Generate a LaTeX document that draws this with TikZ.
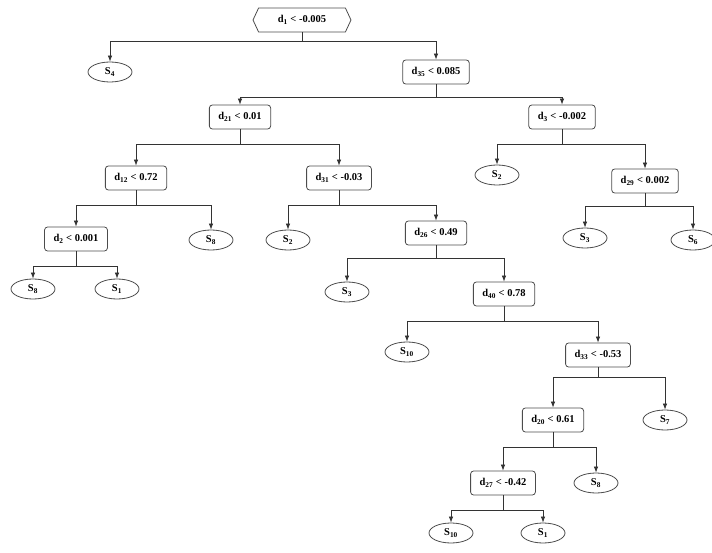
\documentclass[tikz,border=0pt]{standalone}
\usepackage{fontspec}
\setmainfont{Liberation Serif}
\usetikzlibrary{shapes.symbols,shapes.geometric,arrows.meta}

\tikzset{
  rule/.style={draw=black!70, line width=0.8pt, rounded corners=3pt, minimum height=24pt, inner xsep=9pt, font=\fontsize{10.5}{12}\bfseries},
  leaf/.style={draw=black!70, line width=0.8pt, ellipse, minimum width=44pt, minimum height=20pt, inner sep=0pt, font=\fontsize{10.5}{12}\bfseries},
  link/.style={draw=black!80, line width=0.7pt, -{Latex[length=6pt,width=4.5pt]}},
}

\begin{document}
\begin{tikzpicture}[x=1pt, y=-1pt]
\useasboundingbox (0,0) rectangle (712,553);

\node[signal, signal to=west and east, signal pointer angle=130, draw=black!70, line width=0.8pt, minimum width=98pt, minimum height=24pt, font=\fontsize{10.5}{12}\bfseries] (d1) at (302,20) {d\textsubscript{1} < -0.005};

\node[leaf] (s4) at (110,72) {S\textsubscript{4}};
\node[rule] (d35) at (436,72) {d\textsubscript{35} < 0.085};

\node[rule] (d21) at (240,117) {d\textsubscript{21} < 0.01};
\node[rule] (d3) at (562,117) {d\textsubscript{3} < -0.002};

\node[rule] (d12) at (136,178) {d\textsubscript{12} < 0.72};
\node[rule] (d31) at (339,178) {d\textsubscript{31} < -0.03};
\node[leaf] (s2a) at (497,175) {S\textsubscript{2}};
\node[rule] (d29) at (645,181) {d\textsubscript{29} < 0.002};

\node[rule] (d2) at (76,239) {d\textsubscript{2} < 0.001};
\node[leaf] (s8a) at (211,240) {S\textsubscript{8}};
\node[leaf] (s2b) at (288,240) {S\textsubscript{2}};
\node[rule] (d26) at (436,233) {d\textsubscript{26} < 0.49};
\node[leaf] (s3a) at (585,238) {S\textsubscript{3}};
\node[leaf] (s6) at (693,240) {S\textsubscript{6}};

\node[leaf] (s8b) at (33,289) {S\textsubscript{8}};
\node[leaf] (s1a) at (117,289) {S\textsubscript{1}};
\node[leaf] (s3b) at (347,292) {S\textsubscript{3}};
\node[rule] (d40) at (504,294) {d\textsubscript{40} < 0.78};

\node[leaf] (s10a) at (407,352) {S\textsubscript{10}};
\node[rule] (d33) at (598,355) {d\textsubscript{33} < -0.53};

\node[rule] (d20) at (553,420) {d\textsubscript{20} < 0.61};
\node[leaf] (s7) at (665,420) {S\textsubscript{7}};

\node[rule] (d27) at (503,483) {d\textsubscript{27} < -0.42};
\node[leaf] (s8c) at (596,483) {S\textsubscript{8}};

\node[leaf] (s10b) at (451,533) {S\textsubscript{10}};
\node[leaf] (s1b) at (543,533) {S\textsubscript{1}};

% branches: down from the test, across, then down to the child
\draw[link] (d1.south) -- ++(0,9) -| (s4.north);
\draw[link] (d1.south) -- ++(0,9) -| (d35.north);
\draw[link] (d35.south) -- ++(0,13) -| (d21.north);
\draw[link] (d35.south) -- ++(0,13) -| (d3.north);
\draw[link] (d21.south) -- ++(0,15) -| (d12.north);
\draw[link] (d21.south) -- ++(0,15) -| (d31.north);
\draw[link] (d3.south) -- ++(0,15) -| (s2a.north);
\draw[link] (d3.south) -- ++(0,15) -| (d29.north);
\draw[link] (d12.south) -- ++(0,15) -| (d2.north);
\draw[link] (d12.south) -- ++(0,15) -| (s8a.north);
\draw[link] (d31.south) -- ++(0,15) -| (s2b.north);
\draw[link] (d31.south) -- ++(0,15) -| (d26.north);
\draw[link] (d29.south) -- ++(0,13) -| (s3a.north);
\draw[link] (d29.south) -- ++(0,13) -| (s6.north);
\draw[link] (d2.south) -- ++(0,15) -| (s8b.north);
\draw[link] (d2.south) -- ++(0,15) -| (s1a.north);
\draw[link] (d26.south) -- ++(0,13) -| (s3b.north);
\draw[link] (d26.south) -- ++(0,13) -| (d40.north);
\draw[link] (d40.south) -- ++(0,15) -| (s10a.north);
\draw[link] (d40.south) -- ++(0,15) -| (d33.north);
\draw[link] (d33.south) -- ++(0,10) -| (d20.north);
\draw[link] (d33.south) -- ++(0,10) -| (s7.north);
\draw[link] (d20.south) -- ++(0,15) -| (d27.north);
\draw[link] (d20.south) -- ++(0,15) -| (s8c.north);
\draw[link] (d27.south) -- ++(0,15) -| (s10b.north);
\draw[link] (d27.south) -- ++(0,15) -| (s1b.north);
\end{tikzpicture}
\end{document}
